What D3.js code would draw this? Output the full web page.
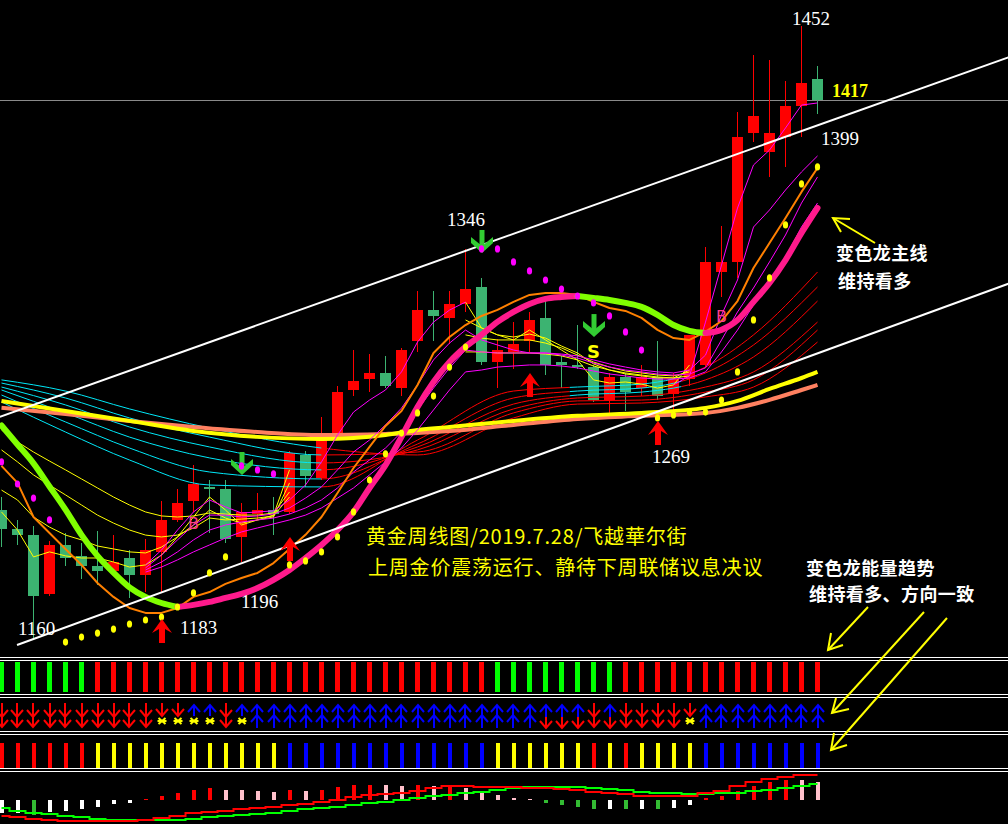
<!DOCTYPE html>
<html><head><meta charset="utf-8">
<script src="https://cdn.jsdelivr.net/npm/d3@7"></script>
<style>html,body{margin:0;padding:0;background:#000;overflow:hidden}</style>
</head><body>
<svg id="c" width="1008" height="824"></svg>
<script>
// ---------- candle data (weekly gold) ----------
const opens  = [1222,1213,1210,1182,1205,1200,1195,1193,1199,1191,1202,1217,1226,1233,1232,1209,1220,1222,1221,1248,1237,1258,1279,1284,1287,1280,1302,1317,1313,1320,1328,1292,1297,1302,1313,1292,1291,1290,1274,1285,1280,1285,1277,1284,1291,1335,1340,1401,1392,1399,1414,1427];
const highs  = [1228,1217,1214,1207,1211,1206,1212,1210,1203,1208,1226,1232,1243,1236,1236,1225,1230,1228,1250,1250,1266,1281,1298,1296,1295,1299,1326,1326,1326,1346,1332,1303,1311,1316,1323,1295,1310,1291,1287,1287,1291,1302,1287,1305,1347,1357,1411,1438,1436,1426,1452,1433];
const lows   = [1204,1205,1160,1181,1195,1189,1186,1191,1180,1183,1183,1216,1221,1211,1206,1197,1217,1210,1220,1233,1236,1255,1276,1278,1280,1276,1297,1302,1301,1316,1291,1280,1289,1297,1286,1280,1289,1273,1266,1269,1276,1274,1269,1281,1290,1323,1332,1397,1380,1385,1399,1410];
const closes = [1213,1210,1181,1205,1199,1195,1193,1197,1191,1203,1217,1225,1234,1232,1208,1221,1222,1220,1249,1238,1255,1278,1283,1287,1281,1298,1317,1314,1320,1327,1292,1298,1301,1312,1291,1291,1290,1274,1285,1278,1285,1276,1284,1305,1340,1340,1399,1409,1401,1414,1425,1417];

// ---------- indicator lines ----------
const mainLine = [1262,1253,1244,1233,1222,1210,1200,1192,1185,1180.5,1177.6,1175.7,1176.7,1178.1,1180.0,1181.9,1184.7,1188.6,1193.3,1199.0,1205.2,1212.3,1220.9,1232.3,1243.2,1256.6,1270.8,1282.7,1292.2,1299.4,1305.1,1311.3,1316.0,1319.8,1322.2,1323.1,1323.6,1322.7,1321.7,1320.3,1318.4,1314.6,1309.8,1307.0,1306.0,1307.5,1312.2,1320.8,1329.8,1340.7,1353.6,1365.5];
const orangeLine = [1242.8,1234.7,1218.5,1210.9,1203.3,1195.7,1187.1,1180.5,1175.2,1172.9,1172.9,1175.2,1180.5,1182.8,1186.7,1189.5,1191.9,1196.6,1203.3,1210.0,1218.5,1229.9,1241.8,1251.8,1261.8,1268.9,1281.3,1296.5,1304.1,1309.8,1314.1,1317.0,1320.8,1324.1,1325.0,1325.0,1324.1,1320.8,1317.9,1316.5,1313.2,1307.5,1303.6,1302.7,1306.5,1311.7,1321.2,1336.9,1348.8,1360.7,1373.1,1384.5];
const longIdx = [0,4,8,12,16,20,24,26,28,32,36,40,44,46,48,50,51];
const yellowThick = [1273.7,1268.9,1264.2,1259.4,1256.6,1255.6,1257.5,1259.9,1261.3,1264.2,1266.6,1268.0,1270.4,1273.7,1279.4,1284.6,1287.5];
const salmonThick = [1270.4,1267.5,1264.2,1261.3,1258.9,1257.5,1258.0,1258.5,1259.4,1262.3,1265.1,1266.6,1268.0,1270.4,1274.2,1278.9,1281.3];
const ribIdx = [0,4,8,13,20,26,32,36,40,44,47,51];
const rib1 = [1273.2,1258.9,1245.6,1233.7,1232.8,1255.1,1278.4,1280.3,1281.7,1289.8,1305.1,1335.0];
const rib2 = [1276.5,1263.7,1251.3,1239.9,1236.6,1253.2,1275.1,1278.4,1279.8,1287.0,1300.3,1327.9];
const rib3 = [1278.9,1268.0,1256.5,1246.6,1240.9,1251.8,1272.2,1276.5,1277.9,1283.7,1294.6,1321.2];
const rib4 = [1280.3,1271.8,1261.3,1251.8,1244.2,1250.4,1269.9,1275.1,1276.0,1280.3,1287.5,1311.2];
const rib5 = [1282.2,1275.1,1265.6,1256.5,1248.0,1249.4,1268.0,1273.7,1274.1,1277.9,1283.7,1307.4];
const rib6 = [1283.7,1278.4,1269.9,1260.8,1251.3,1248.0,1265.6,1272.2,1272.7,1275.6,1280.3,1301.7];
const n = null;
const yellowThinA = [1259.9,1254.2,1249.4,1245.1,1240.9,1236.6,1232.3,1228.0,1224.2,1220.9,1219.0,1218.5,1219.0,1220.4,1219.9,1219.4,1219.4,1220.4,1230.4,n,n,n,n,n,n,n,n,n,n,1297.0,1297.0,1296.5,1296.5,1296.5,1296.0,1295.1,1293.2,1290.3,1288.4,1287.0,1286.0,1285.1,1284.6,1285.6,n,n,n,n,n,n,n,n];
const yellowThinB = [1250.4,1244.7,1238.5,1233.7,1229.0,1224.2,1219.4,1215.6,1212.3,1209.9,1209.0,1209.9,1213.3,1218.0,1217.1,1217.5,1218.0,1219.0,1228.0,n,n,n,n,n,n,n,n,n,n,1305.1,1303.6,1302.7,1302.7,1302.7,1301.2,1298.9,1295.5,1292.2,1289.8,1287.9,1287.0,1286.0,1285.6,1287.5,n,n,n,n,n,n,n,n];
const yellowThinC = [1231.3,1226.6,1218.5,1213.7,1209.9,1207.6,1204.7,1203.3,1201.9,1201.4,1204.2,1209.0,1214.7,1221.8,1218.0,1215.6,1217.1,1218.5,1234.7,n,n,n,n,n,n,n,n,n,n,1312.2,1308.4,1305.1,1304.1,1305.5,1303.6,1299.8,1296.5,1291.3,1288.4,1286.5,1285.6,1284.6,1284.6,1288.4,n,n,n,n,n,n,n,n];
const yellowThinD = [1220.9,1212.3,1199.5,1201.9,1200.0,1199.0,1199.0,1197.1,1194.7,1195.7,1200.4,1209.0,1218.5,1228.0,1221.8,1214.7,1217.1,1219.4,1240.9,n,n,n,n,n,n,n,n,n,n,1320.7,1308.4,1305.1,1302.7,1307.4,1302.7,1297.9,1293.2,1283.7,1282.2,1282.7,1281.7,1279.8,1281.3,1290.8,n,n,n,n,n,n,n,n];
const magentaThinA = [n,n,n,n,n,n,n,n,n,1195.7,1202.8,1212.3,1220.9,1226.6,1223.3,1220.4,1220.9,1221.4,1226.6,1233.7,1244.7,1257.5,1268.4,1274.1,1278.9,1287.5,1301.7,1311.2,1316.9,1320.7,n,n,n,n,n,n,n,n,n,n,n,n,1281.3,1285.6,1311.2,1338.3,1365.4,1385.9,1393.0,1403.5,1414.4,1415.4];
const magentaThinB = [n,n,n,n,n,n,n,n,n,1194.3,1200.4,1207.6,1214.7,1219.4,1219.4,1218.5,1219.0,1219.9,1222.8,1227.5,1232.8,1240.9,1249.4,1255.1,1262.3,1270.3,1281.3,1293.2,1301.2,1307.4,1302.7,1300.3,1297.9,1296.5,1296.5,1296.0,1295.1,1293.2,1291.3,1289.8,1288.4,1287.5,1287.0,1288.4,1295.5,1314.6,1331.2,1356.4,1364.5,1374.0,1382.6,1390.2];
const magentaThinC = [n,n,n,n,n,n,n,n,n,1193.3,1197.1,1201.9,1207.6,1212.3,1214.7,1216.1,1217.1,1218.0,1219.9,1222.8,1226.6,1232.3,1239.9,1245.6,1251.3,1258.9,1269.4,1279.8,1289.4,1297.9,1297.0,1296.5,1296.5,1296.5,1296.5,1295.5,1294.1,1291.7,1289.8,1288.4,1287.5,1286.5,1286.0,1286.5,1289.4,1302.7,1316.0,1327.4,1339.8,1352.6,1367.8,1380.2];
const magentaThinD = [n,n,n,n,n,n,n,n,n,1192.3,1194.7,1198.1,1201.9,1205.2,1208.5,1211.4,1213.3,1215.2,1217.1,1219.4,1222.8,1227.5,1232.3,1238.5,1244.7,1251.3,1259.9,1269.4,1278.9,1287.5,1288.4,1289.8,1290.3,1290.8,1290.8,1290.3,1289.4,1287.9,1286.5,1285.6,1284.6,1284.1,1284.1,1284.6,1287.5,1297.0,1307.4,1319.3,1329.8,1342.1,1356.4,1367.8];

// ---------- signal dots / arrows ----------
const yellowDotIdx = [4,5,6,7,8,9,10,11,12,13,14,18,19,20,21,22,23,24,25,26,27,28,29,41,42,43,44,45,46,47,48,49,50,51];
const yellowDotVal = [1159.0,1161.4,1163.3,1165.2,1167.6,1169.5,1170.9,1175.7,1182.4,1191.9,1199.5,1195.7,1197.6,1201.9,1209.0,1220.9,1236.1,1248.5,1258.4,1268.0,1276.0,1289.8,1299.3,1265.6,1267.0,1268.4,1268.4,1274.1,1287.5,1312.2,1332.2,1357.4,1376.9,1385.0];
const magentaDotIdx = [0,1,2,3,15,16,17,30,31,32,33,34,35,36,37,38,39,40];
const magentaDotVal = [1244.7,1234.2,1227.5,1217.1,1242.8,1240.9,1239.0,1346.0,1346.0,1339.8,1335.5,1331.2,1326.9,1323.6,1320.3,1314.1,1306.5,1297.9];
const upArrowIdx = [10,18,33,41];
const upArrowVal = [1170.0,1209.0,1287.0,1264.1];
const downArrowIdx = [15,30,37];
const downArrowVal = [1249.4,1355.0,1315.0];
const buyIdx = [12,45];
const buyVal = [1215.6,1314.1];
const sellIdx = [37];
const sellVal = [1297.4];
const channelUpper = [[-0.1,1266.1],[63,1437.3]];
const channelLower = [[0.97,1157.6],[63,1329.6]];
const lastClose = 1417;

// ---------- lower panels ----------
const energyColors = ['g','g','g','g','g','g','r','r','r','r','r','r','r','r','r','r','r','r','r','r','r','r','r','r','r','r','r','r','r','r','r','g','g','g','g','g','g','g','g','r','r','r','r','r','r','r','r','r','r','r','r','r'];
const arrowTypes = ['DD','DD','DD','DD','DD','DD','DD','DD','DD','DD','Dx','Dx','Ux','Ux','DD','Ux','UU','UU','UU','UU','UU','UU','UU','UU','UU','UU','UU','UU','UU','UU','UU','UU','UU','UU','UD','UD','UD','DD','UD','DD','DD','DD','DD','Dx','UU','UU','UU','UU','UU','UU','UU','UU'];
const trendColors = ['r','r','r','r','r','r','y','y','y','y','y','y','y','y','y','y','y','y','b','b','b','b','b','b','b','b','b','b','b','b','b','y','y','y','y','y','y','r','y','r','y','y','y','y','b','b','b','b','b','b','b','b'];
const histVal = [-13,-13,-15,-12,-11,-9,-7,-4,-3,1,4,7,10,12,10,10,9,8,10,9,10,13,15,15,15,14,15,14,15,12,9,5,2,1,-3,-5,-7,-9,-9,-9,-9,-9,-8,-5,2,4,9,14,18,20,20,18];
const histColors = ['w','w','g','w','w','w','w','w','w','r','r','r','r','r','p','p','p','p','r','p','r','r','r','r','p','p','r','p','r','p','p','p','p','p','g','g','g','g','w','g','w','g','w','w','r','r','r','r','r','r','p','p'];
const redTrend = [-16,-17,-19,-20,-21,-21,-21,-21,-21,-20,-18,-16,-13,-12,-11,-9,-8,-7,-5,-4,-2,0,3,5,6,7,9,12,14,14,13,13,13,12,12,11,10,8,7,6,4,4,4,4,7,9,14,18,21,23,25,25];
const greenTrend = [-8,-11,-13,-14,-16,-17,-19,-20,-20,-20,-20,-20,-19,-17,-16,-15,-14,-13,-11,-9,-8,-7,-5,-3,-2,0,2,4,5,7,8,10,12,13,13,13,13,12,11,10,8,7,7,6,6,7,7,9,10,12,14,16];

// ---------- drawing ----------
const W = 1008, H = 824;
const svg = d3.select('#c');
svg.append('rect').attr('width',W).attr('height',H).attr('fill','#000');
const x = d3.scaleLinear().domain([0,51]).range([1.5,817.5]);
const y = d3.scaleLinear().domain([1160,1452]).range([640,26]);
const COL = {up:'#ff0000', down:'#3cb371'};

const defs = svg.append('defs');
function clip(id, ranges){
  const c = defs.append('clipPath').attr('id',id);
  ranges.forEach(r=>c.append('rect').attr('x',r[0]).attr('y',0).attr('width',r[1]-r[0]).attr('height',660));
}
const xs = x(20), xm1 = x(35.5), xm2 = x(42.5);
clip('cyanA',[[-10,xs]]);
clip('redA',[[xs,W]]);
clip('cyanB',[[-10,xs],[xm1,xm2]]);
clip('redB',[[xs,xm1],[xm2,W]]);

const main = svg.append('g');
main.append('line').attr('x1',0).attr('x2',W).attr('y1',Math.round(y(lastClose))+0.5).attr('y2',Math.round(y(lastClose))+0.5)
  .attr('stroke','#8a8a8a').attr('stroke-width',1);

// candles
const cg = main.append('g').attr('shape-rendering','crispEdges');
d3.range(52).forEach(i=>{
  const col = closes[i] >= opens[i] ? COL.up : COL.down;
  cg.append('line').attr('x1',x(i)).attr('x2',x(i)).attr('y1',y(highs[i])).attr('y2',y(lows[i])).attr('stroke',col).attr('stroke-width',1);
  const top = y(Math.max(opens[i],closes[i])), bot = y(Math.min(opens[i],closes[i]));
  cg.append('rect').attr('x',x(i)-5.5).attr('y',top).attr('width',11).attr('height',Math.max(1.5,bot-top)).attr('fill',col);
});

const lineIdx = (curve)=>d3.line().defined(d=>d[1]!=null).x(d=>x(d[0])).y(d=>y(d[1])).curve(curve||d3.curveLinear);
const zipIdx = (idx, vals)=>idx.map((k,j)=>[k,vals[j]]);
const zipAll = (vals)=>vals.map((v,i)=>[i,v]);
function drawLine(g, pts, color, w, curve, clipId){
  const p = g.append('path').attr('d', lineIdx(curve)(pts)).attr('fill','none').attr('stroke',color).attr('stroke-width',w)
    .attr('stroke-linejoin','round');
  if (clipId) p.attr('clip-path',`url(#${clipId})`);
  return p;
}

// ribbon (cyan / red)
const rg = main.append('g');
[rib1,rib2,rib3,rib4,rib5,rib6].forEach((r,k)=>{
  const pts = zipIdx(ribIdx, r);
  drawLine(rg, pts, '#00e8f8', 1, d3.curveMonotoneX, k<3 ? 'cyanB' : 'cyanA');
  drawLine(rg, pts, '#ff0000', 1, d3.curveMonotoneX, k<3 ? 'redB' : 'redA');
});

drawLine(main, zipIdx(longIdx, salmonThick), '#ff8060', 4, d3.curveMonotoneX);
drawLine(main, zipIdx(longIdx, yellowThick), '#ffff00', 4, d3.curveMonotoneX);

[yellowThinA,yellowThinB,yellowThinC,yellowThinD].forEach(v=>drawLine(main, zipAll(v), '#ffff00', 1));
[magentaThinA,magentaThinB,magentaThinC,magentaThinD].forEach(v=>drawLine(main, zipAll(v), '#ff00ff', 1));

drawLine(main, zipAll(orangeLine), '#ff8000', 2);

// main chameleon line: pink when rising, green when falling
(function(){
  let start = 0;
  const dir = i => mainLine[i+1] > mainLine[i];
  for (let i=1;i<=51;i++){
    if (i===51 || dir(i)!==dir(start)){
      const pts = d3.range(start, i+1).map(k=>[k, mainLine[k]]);
      drawLine(main, pts, dir(start)?'#ff1a8c':'#80ff00', 6, d3.curveMonotoneX).attr('stroke-linecap','round');
      start = i;
    }
  }
})();

[channelUpper, channelLower].forEach(c=>{
  main.append('line').attr('x1',x(c[0][0])).attr('y1',y(c[0][1])).attr('x2',x(c[1][0])).attr('y2',y(c[1][1]))
    .attr('stroke','#ffffff').attr('stroke-width',2);
});

yellowDotIdx.forEach((k,j)=>main.append('ellipse').attr('cx',x(k)).attr('cy',y(yellowDotVal[j])).attr('rx',2.6).attr('ry',3.6).attr('fill','#ffff00'));

upArrowIdx.forEach((k,j)=>{
  const c = x(k)+0.5, t = y(upArrowVal[j]);
  main.append('path').attr('d',`M${c},${t} L${c+10},${t+14} L${c+3},${t+10} L${c+3},${t+24} L${c-3},${t+24} L${c-3},${t+10} L${c-10},${t+14} Z`).attr('fill','#ff0000');
});
downArrowIdx.forEach((k,j)=>{
  const c = x(k)+0.5, t = y(downArrowVal[j]);
  main.append('rect').attr('x',c-2.5).attr('y',t).attr('width',5).attr('height',17).attr('fill','#33cc33');
  main.append('path').attr('d',`M${c-11},${t+7} L${c},${t+16} L${c+11},${t+7} L${c+11},${t+13} L${c},${t+23} L${c-11},${t+13} Z`).attr('fill','#33cc33');
});
magentaDotIdx.forEach((k,j)=>main.append('ellipse').attr('cx',x(k)).attr('cy',y(magentaDotVal[j])).attr('rx',2.6).attr('ry',3.6).attr('fill','#ff00ff'));

buyIdx.forEach((k,j)=>main.append('text').attr('x',x(k)).attr('y',y(buyVal[j])+6).attr('text-anchor','middle')
  .attr('font-family','DejaVu Sans').attr('font-size',16).attr('fill','#ff3d8b').text('B'));
sellIdx.forEach((k,j)=>main.append('text').attr('x',x(k)).attr('y',y(sellVal[j])+6.5).attr('text-anchor','middle')
  .attr('font-family','DejaVu Sans').attr('font-weight','bold').attr('font-size',18).attr('fill','#ffff00').text('S'));

const lbl = (t,px,py,col,bold)=>main.append('text').attr('x',px).attr('y',py).attr('font-family','Liberation Serif')
  .attr('font-size',bold?18:19).attr('font-weight',bold?'bold':'normal').attr('fill',col).text(t);
lbl('1452',792,25,'#ffffff');
lbl('1417',832,97,'#ffff00',true);
lbl('1399',821,145,'#ffffff');
lbl('1346',447,226,'#ffffff');
lbl('1269',652,463,'#ffffff');
lbl('1196',241,608,'#ffffff');
lbl('1183',180,634,'#ffffff');
lbl('1160',18,635,'#ffffff');

const cn = (t,px,py,col,size,ls,wt)=>svg.append('text').attr('x',px).attr('y',py).attr('font-family','Noto Sans CJK SC')
  .attr('font-size',size).attr('letter-spacing',ls).attr('font-weight',wt||'normal').attr('fill',col).text(t);
cn('变色龙主线',836,260,'#ffffff',18,0.4,'bold');
cn('维持看多',838,288,'#ffffff',18,0.4,'bold');
cn('变色龙能量趋势',806,575,'#ffffff',18,0.4,'bold');
cn('维持看多、方向一致',809,601,'#ffffff',18,0.4,'bold');
cn('黄金周线图/2019.7.28/飞越華尔街',366,544,'#ffff00',20,0.8);
cn('上周金价震荡运行、静待下周联储议息决议',368,575,'#ffff00',20,0.8);

// ---------- lower panels ----------
const lp = svg.append('g');
[657,694,731,768].forEach(yy=>{
  lp.append('rect').attr('x',0).attr('y',yy).attr('width',W).attr('height',1).attr('fill','#fff');
  lp.append('rect').attr('x',0).attr('y',yy+3).attr('width',W).attr('height',1).attr('fill','#fff');
});
const pc = {g:'#00ff00', r:'#ff0000', y:'#ffff00', b:'#0000ff', w:'#ffffff', p:'#ffc0cb'};
const bg = lp.append('g').attr('shape-rendering','crispEdges');
energyColors.forEach((c,i)=>bg.append('rect').attr('x',Math.round(x(i)-2.5)).attr('y',662).attr('width',5).attr('height',30).attr('fill',pc[c]));
trendColors.forEach((c,i)=>bg.append('rect').attr('x',Math.round(x(i)-1.5)).attr('y',743).attr('width',4).attr('height',25).attr('fill',pc[c]));

const ag = lp.append('g').attr('fill','none').attr('stroke-width',2);
function shaft(c,y1,y2,col){ ag.append('line').attr('x1',c).attr('x2',c).attr('y1',y1).attr('y2',y2).attr('stroke',col); }
function chev(c,apex,up,col){ const a = up? apex+7 : apex-7;
  ag.append('polyline').attr('points',`${c-6},${a} ${c},${apex} ${c+6},${a}`).attr('stroke',col); }
function star(c){ ag.append('path').attr('d',`M${c-3.5},718 L${c+3.5},724 M${c-3.5},724 L${c+3.5},718 M${c-4.5},721 L${c+4.5},721`).attr('stroke','#ffff00'); }
arrowTypes.forEach((t,i)=>{
  const c = Math.round(x(i));
  const R = '#ff0000', B = '#0000ff';
  if (t==='DD'){ shaft(c,703,727,R); chev(c,717,false,R); chev(c,727,false,R); }
  else if (t==='Dx'){ shaft(c,703,716,R); chev(c,716,false,R); star(c); }
  else if (t==='Ux'){ shaft(c,705,716,B); chev(c,705,true,B); star(c); }
  else if (t==='UU'){ shaft(c,705,728,B); chev(c,705,true,B); chev(c,715,true,B); }
  else if (t==='UD'){ shaft(c,705,717,B); chev(c,705,true,B); shaft(c,717,728,R); chev(c,728,false,R); }
});

const yh = d3.scaleLinear().domain([-25,25]).range([825,775]);
const hg = lp.append('g').attr('shape-rendering','crispEdges');
histVal.forEach((v,i)=>{
  const a = yh(0), b = yh(v);
  hg.append('rect').attr('x',Math.round(x(i)-1.5)).attr('y',Math.min(a,b)).attr('width',4).attr('height',Math.max(1,Math.abs(a-b)))
    .attr('fill', histColors[i]==='g' ? '#33bb33' : pc[histColors[i]]);
});
const tl = d3.line().x((d,i)=>x(i)).y(d=>yh(d)).curve(d3.curveStep);
lp.append('path').attr('d',tl(greenTrend)).attr('fill','none').attr('stroke','#00ff00').attr('stroke-width',2);
lp.append('path').attr('d',tl(redTrend)).attr('fill','none').attr('stroke','#ff0000').attr('stroke-width',2);

const yg = svg.append('g').attr('stroke','#ffff00').attr('stroke-width',2).attr('fill','none');
function pointer(x1,y1,x2,y2,h1,h2){
  yg.append('line').attr('x1',x1).attr('y1',y1).attr('x2',x2).attr('y2',y2);
  yg.append('polyline').attr('points',`${h1[0]},${h1[1]} ${x2},${y2} ${h2[0]},${h2[1]}`);
}
pointer(875,243,833,218,[850,219],[841,232]);
pointer(868,607,828,650,[831,633],[843,645]);
pointer(924,612,832,713,[836,698],[849,709]);
pointer(947,618,831,750,[834,733],[847,745]);
</script>
</body></html>
